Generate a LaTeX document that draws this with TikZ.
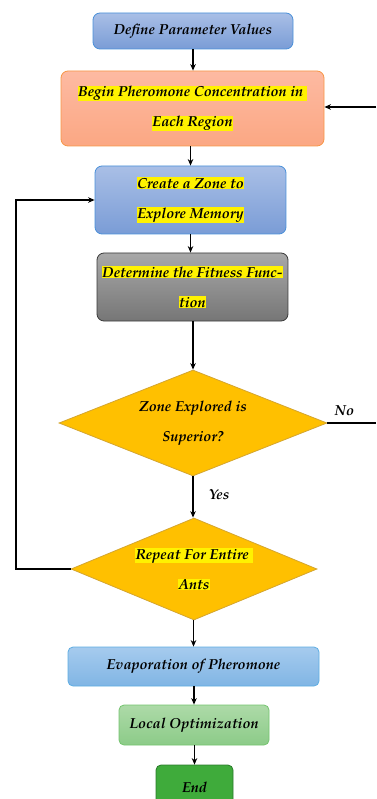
\documentclass[tikz,border=0pt]{standalone}
\usepackage[T1]{fontenc}
\usepackage{mathpazo}
\usetikzlibrary{arrows.meta,shapes.geometric,positioning,calc}

\definecolor{bluetop}{HTML}{A9BFE6}
\definecolor{bluebot}{HTML}{7A9CD6}
\definecolor{blueline}{HTML}{4A90D9}
\definecolor{orgtop}{HTML}{FDBAA2}
\definecolor{orgbot}{HTML}{FBA783}
\definecolor{orgline}{HTML}{F79646}
\definecolor{graytop}{HTML}{A8A8A8}
\definecolor{graybot}{HTML}{767676}
\definecolor{grayline}{HTML}{3A3A3A}
\definecolor{gold}{HTML}{FFC000}
\definecolor{goldline}{HTML}{D4A530}
\definecolor{skytop}{HTML}{A6CBEE}
\definecolor{skybot}{HTML}{80B5E4}
\definecolor{skyline}{HTML}{5DADE2}
\definecolor{lgtop}{HTML}{ADDAA8}
\definecolor{lgbot}{HTML}{8CCB88}
\definecolor{lgline}{HTML}{74C46F}
\definecolor{endfill}{HTML}{3FAB3B}
\definecolor{endline}{HTML}{2A7A2A}

\newcommand{\hlt}[1]{{\setlength{\fboxsep}{0.5pt}\colorbox{yellow}{#1}}}

\begin{document}
\begin{tikzpicture}[x=1pt, y=-1pt,
      font=\fontsize{14.5}{17}\selectfont\bfseries\itshape, >={Stealth[length=6.5pt,width=5.5pt]},
      box/.style={draw, line width=0.8pt, rounded corners=7pt, align=center, inner sep=0pt},
      dec/.style={diamond, aspect=2.5, draw=goldline, fill=gold, line width=0.8pt,
                  align=center, inner sep=0pt},
      flow/.style={->, line width=1.1pt},
      lab/.style={font=\fontsize{14.5}{17}\selectfont\bfseries\itshape}
    ]
    \useasboundingbox (0,0) rectangle (376,799);
    \node[box, draw=blueline, top color=bluetop, bottom color=bluebot,
          minimum width=200pt, minimum height=36pt] (def) at (193,31) {Define Parameter Values};
    \node[box, draw=orgline, top color=orgtop, bottom color=orgbot,
          minimum width=263pt, minimum height=75pt] (beg) at (192.5,108.5)
          {\hlt{Begin Pheromone Concentration in\ }\\[13pt]\hlt{Each Region}};
    \node[box, draw=blueline, top color=bluetop, bottom color=bluebot,
          minimum width=191pt, minimum height=68pt] (zone) at (190.5,200)
          {\hlt{Create a Zone to}\\[13pt]\hlt{Explore Memory}};
    \node[box, draw=grayline, top color=graytop, bottom color=graybot,
          minimum width=191pt, minimum height=68pt] (fit) at (192.5,287)
          {\hlt{Determine the Fitness Func-}\\[13pt]\hlt{tion}};
    \node[dec, minimum width=268pt, minimum height=106pt] (sup) at (193,423)
          {\raisebox{-5pt}{\shortstack{Zone Explored is\\[13pt]Superior?}}};
    \node[dec, minimum width=246pt, minimum height=102pt] (rep) at (194,569)
          {\hlt{Repeat For Entire\ }\\[13pt]\hlt{Ants}};
    \node[box, draw=skyline, top color=skytop, bottom color=skybot, rounded corners=5pt,
          minimum width=251pt, minimum height=39pt] (eva) at (193.5,666.5) {Evaporation of Pheromone};
    \node[box, draw=lgline, top color=lgtop, bottom color=lgbot, rounded corners=5pt,
          minimum width=150pt, minimum height=40pt] (loc) at (194,725) {Local Optimization};
    \node[box, draw=endline, fill=endfill, rounded corners=5pt,
          minimum width=77pt, minimum height=44pt] (fin) at (194.5,787) {End};
    \coordinate (noR) at (376,423);
    \coordinate (inR) at (376,107);
    \coordinate (loopL) at (16,569);
    % main line
    \draw[flow] (def) -- (def |- beg.north);
    \draw[flow] (beg.south -| zone.north) -- (zone.north);
    \draw[flow] (zone) -- (zone.south |- fit.north);
    \draw[flow] (fit.south -| sup.north) -- (sup.north);
    \draw[flow] (sup.south) -- node[lab, right=12pt, pos=0.45]{Yes} (sup.south |- rep.north);
    \draw[flow] (rep.south -| eva.north) -- (eva.north);
    \draw[flow] (eva.south -| loc.north) -- (loc.north);
    \draw[flow] (loc.south -| fin.north) -- (fin.north);
    % back loops
    \draw[line width=1.1pt] (sup.east) -- node[lab, above=3pt, pos=0.35]{No} (noR);
    \draw[flow] (inR) -- (inR -| beg.east);
    \draw[flow] (rep.west) -- (loopL) |- (zone.west);
  \end{tikzpicture}
\end{document}
